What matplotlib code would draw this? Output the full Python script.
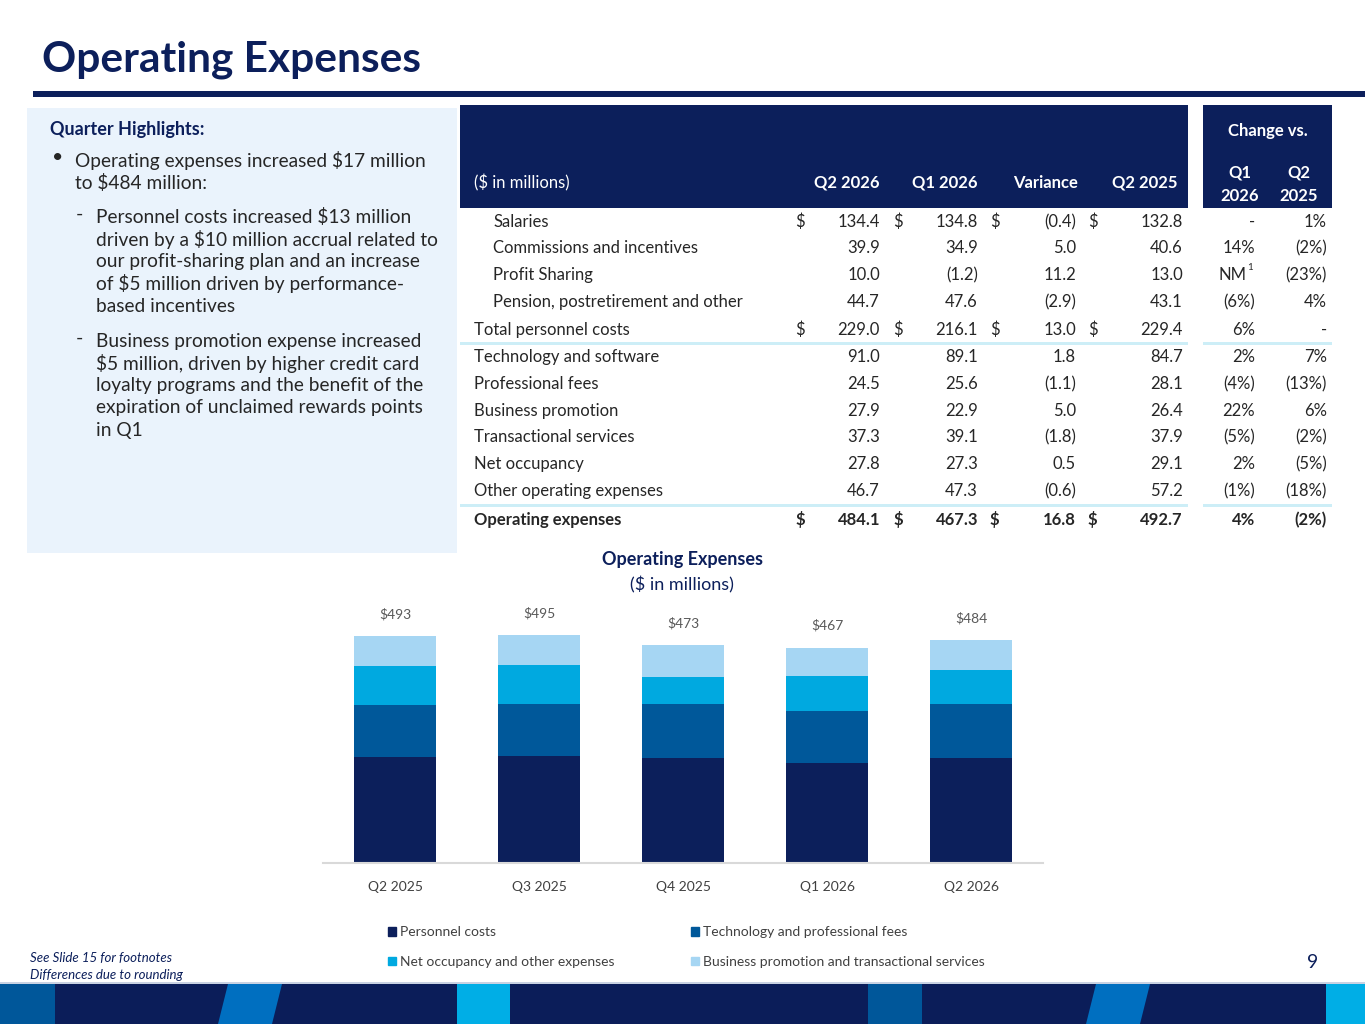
import matplotlib
matplotlib.use('Agg')
import matplotlib.pyplot as plt
from matplotlib.patches import Rectangle, Polygon, Patch

plt.rcParams['font.family'] = ['Lato', 'DejaVu Sans']

# chart data ($ in millions)
quarters = ['Q2 2025', 'Q3 2025', 'Q4 2025', 'Q1 2026', 'Q2 2026']
personnel = [229.4, 232.5, 229.0, 216.1, 229.0]
tech_prof = [112.8, 113.3, 117.0, 114.7, 115.5]
occupancy_other = [86.3, 83.8, 58.5, 74.6, 74.5]
promo_trans = [64.3, 65.4, 68.5, 62.0, 65.2]
total_labels = ['$493', '$495', '$473', '$467', '$484']

# table data
row_labels = ['Salaries', 'Commissions and incentives', 'Profit Sharing',
              'Pension, postretirement and other', 'Total personnel costs',
              'Technology and software', 'Professional fees', 'Business promotion',
              'Transactional services', 'Net occupancy', 'Other operating expenses',
              'Operating expenses']
q2_2026 = ['134.4', '39.9', '10.0', '44.7', '229.0', '91.0', '24.5', '27.9', '37.3', '27.8', '46.7', '484.1']
q1_2026 = ['134.8', '34.9', '(1.2)', '47.6', '216.1', '89.1', '25.6', '22.9', '39.1', '27.3', '47.3', '467.3']
variance = ['(0.4)', '5.0', '11.2', '(2.9)', '13.0', '1.8', '(1.1)', '5.0', '(1.8)', '0.5', '(0.6)', '16.8']
q2_2025 = ['132.8', '40.6', '13.0', '43.1', '229.4', '84.7', '28.1', '26.4', '37.9', '29.1', '57.2', '492.7']
chg_q1 = ['-', '14%', 'NM', '(6%)', '6%', '2%', '(4%)', '22%', '(5%)', '2%', '(1%)', '4%']
chg_q2 = ['1%', '(2%)', '(23%)', '4%', '-', '7%', '(13%)', '6%', '(2%)', '(5%)', '(18%)', '(2%)']
dollar_rows = [0, 4, 11]
indent_rows = [0, 1, 2, 3]

navy = '#0C1F5B'
c_tech = '#00589A'
c_occ = '#00A9E0'
c_promo = '#A6D6F3'
txt = '#262626'

W, H = 1365, 1024
fig = plt.figure(figsize=(W / 100, H / 100), dpi=100)


def fx(x):
    return x / W


def fy(y):
    return 1 - y / H


def rect(x0, y0, x1, y1, color):
    fig.add_artist(Rectangle((fx(x0), fy(y1)), fx(x1 - x0), (y1 - y0) / H,
                             transform=fig.transFigure, color=color, lw=0))


def t(x, y, s, **kw):
    kw.setdefault('va', 'center')
    kw.setdefault('color', txt)
    fig.text(fx(x), fy(y), s, **kw)


# title
t(42, 60, 'Operating Expenses', fontsize=30.5, weight='bold', color=navy)
rect(33, 91, W, 97, navy)

# highlights panel
rect(27, 108, 457, 553, '#EAF3FC')
t(50, 129, 'Quarter Highlights:', fontsize=13, weight='bold', color=navy)
t(52, 157, '•', fontsize=14)
t(75, 160, 'Operating expenses increased $17 million', fontsize=13.8)
t(75, 183, 'to $484 million:', fontsize=13.8)
t(76, 214, '-', fontsize=14)
sub1 = ['Personnel costs increased $13 million',
        'driven by a $10 million accrual related to',
        'our profit-sharing plan and an increase',
        'of $5 million driven by performance-',
        'based incentives']
for i, s in enumerate(sub1):
    t(96, 217 + i * 22.3, s, fontsize=13.8)
t(76, 338, '-', fontsize=14)
sub2 = ['Business promotion expense increased',
        '$5 million, driven by higher credit card',
        'loyalty programs and the benefit of the',
        'expiration of unclaimed rewards points',
        'in Q1']
for i, s in enumerate(sub2):
    t(96, 341 + i * 22.3, s, fontsize=13.8)

# table header
rect(460, 105, 1188, 208, navy)
rect(1203, 105, 1332, 208, navy)
t(474, 183, '($ in millions)', fontsize=12, color='white')
for x, s in zip([880, 978, 1078, 1178], ['Q2 2026', 'Q1 2026', 'Variance', 'Q2 2025']):
    t(x, 183, s, fontsize=12, color='white', weight='bold', ha='right')
t(1268, 131, 'Change vs.', fontsize=12, color='white', weight='bold', ha='center')
t(1240, 172, 'Q1', fontsize=12, color='white', weight='bold', ha='center')
t(1240, 196, '2026', fontsize=12, color='white', weight='bold', ha='center')
t(1299, 172, 'Q2', fontsize=12, color='white', weight='bold', ha='center')
t(1299, 196, '2025', fontsize=12, color='white', weight='bold', ha='center')

# table rows
row_y = [222, 248, 275, 302, 330, 357, 384, 411, 437, 464, 491, 520]
for i, lab in enumerate(row_labels):
    y = row_y[i]
    wt = 'bold' if i == 11 else 'normal'
    t(493 if i in indent_rows else 474, y, lab, fontsize=12, weight=wt)
    cols = [q2_2026[i], q1_2026[i], variance[i], q2_2025[i]]
    for dx, nx, v in zip([795, 893, 990, 1088], [880, 978, 1076, 1183], cols):
        if i in dollar_rows:
            t(dx, y, '$', fontsize=12, weight=wt)
        t(nx, y, v, fontsize=12, weight=wt, ha='right')
    if chg_q1[i] == 'NM':
        t(1247, y, 'NM', fontsize=12, weight=wt, ha='right')
        t(1247, y - 7, '1', fontsize=7, weight=wt)
    else:
        t(1255, y, chg_q1[i], fontsize=12, weight=wt, ha='right')
    t(1327, y, chg_q2[i], fontsize=12, weight=wt, ha='right')

for y in [343, 505]:
    rect(460, y - 1.5, 1188, y + 1.5, '#CDEEF7')
    rect(1203, y - 1.5, 1332, y + 1.5, '#CDEEF7')

# stacked bar chart
ax = fig.add_axes([fx(323), fy(863), 720 / W, 263 / H])
xs = range(len(quarters))
b1 = [p + q for p, q in zip(personnel, tech_prof)]
b2 = [p + q for p, q in zip(b1, occupancy_other)]
ax.bar(xs, personnel, width=0.57, color=navy)
ax.bar(xs, tech_prof, width=0.57, bottom=personnel, color=c_tech)
ax.bar(xs, occupancy_other, width=0.57, bottom=b1, color=c_occ)
bars = ax.bar(xs, promo_trans, width=0.57, bottom=b2, color=c_promo)
for r, s in zip(bars, total_labels):
    ax.annotate(s, (r.get_x() + r.get_width() / 2, r.get_y() + r.get_height()),
                xytext=(0, 16), textcoords='offset points', ha='center', va='center',
                fontsize=10, color='#595959')
ax.set_xlim(-0.5, 4.5)
ax.set_ylim(0, 571)
ax.set_xticks(list(xs))
ax.set_xticklabels(quarters, fontsize=10, color='#404040')
ax.tick_params(axis='x', length=0, pad=13)
ax.set_yticks([])
for sp in ['top', 'left', 'right']:
    ax.spines[sp].set_visible(False)
ax.spines['bottom'].set_color('#D9D9D9')
ax.spines['bottom'].set_linewidth(1.5)
ax.patch.set_alpha(0)

t(682, 560, 'Operating Expenses', fontsize=13, weight='bold', color=navy, ha='center')
t(682, 585, '($ in millions)', fontsize=13, color=navy, ha='center')

# legend
leg_kw = dict(frameon=False, fontsize=10, handlelength=0.6, handleheight=0.6,
              handletextpad=0.3, labelspacing=1.25, labelcolor='#404040', loc='upper left')
l1 = fig.legend([Patch(color=navy), Patch(color=c_occ)],
                ['Personnel costs', 'Net occupancy and other expenses'],
                bbox_to_anchor=(fx(375), fy(914)), **leg_kw)
l2 = fig.legend([Patch(color=c_tech), Patch(color=c_promo)],
                ['Technology and professional fees', 'Business promotion and transactional services'],
                bbox_to_anchor=(fx(678), fy(914)), **leg_kw)

# footer
t(30, 958, 'See Slide 15 for footnotes', fontsize=9.5, style='italic', color=navy)
t(30, 975, 'Differences due to rounding', fontsize=9.5, style='italic', color=navy)
t(1313, 963, '9', fontsize=14, color=navy, ha='center')

rect(0, 982, W, 984, '#C9D2E3')
rect(0, 984, W, H, '#0B1D59')
rect(0, 984, 55, H, '#00579A')
rect(457, 984, 510, H, '#00AEE6')
rect(868, 984, 922, H, '#00579A')
rect(1326, 984, W, H, '#00AEE6')
for x0 in [218, 1086]:
    fig.add_artist(Polygon([(fx(x0), fy(H)), (fx(x0 + 54), fy(H)),
                            (fx(x0 + 64), fy(984)), (fx(x0 + 10), fy(984))],
                           closed=True, transform=fig.transFigure, color='#006FC0', lw=0))

fig.savefig('out.png', dpi=100)
